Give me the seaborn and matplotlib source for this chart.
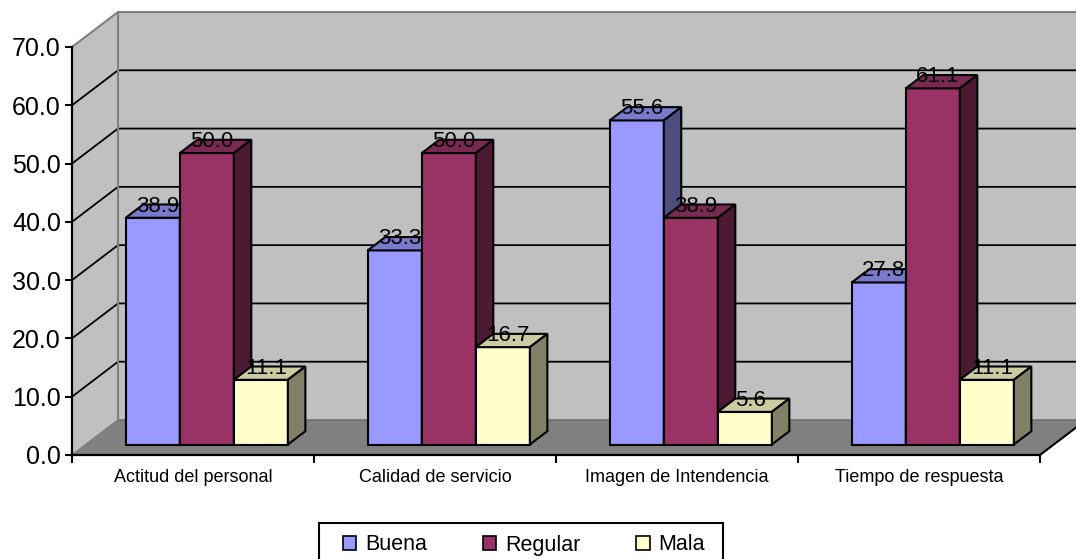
import numpy as np
import pandas as pd
import matplotlib
matplotlib.use("Agg")
import matplotlib.pyplot as plt
import seaborn as sns
from matplotlib.patches import Polygon, Rectangle
from matplotlib.colors import to_rgb

# datos del grafico
categorias = ["Actitud del personal", "Calidad de servicio",
              "Imagen de Intendencia", "Tiempo de respuesta"]
niveles = ["Buena", "Regular", "Mala"]
buena = [38.9, 33.3, 55.6, 27.8]
regular = [50.0, 50.0, 38.9, 61.1]
mala = [11.1, 16.7, 5.6, 11.1]
colores = ["#9999FF", "#993366", "#FFFFCC"]
yticks = [0, 10, 20, 30, 40, 50, 60, 70]

df = pd.DataFrame({
    "categoria": categorias * 3,
    "nivel": np.repeat(niveles, len(categorias)),
    "valor": buena + regular + mala,
})

sns.set_style("white")
plt.rcParams["font.family"] = ["Liberation Sans", "DejaVu Sans"]
plt.rcParams["text.color"] = "black"
plt.rcParams["xtick.color"] = "black"
plt.rcParams["ytick.color"] = "black"

W, H = 1076, 559
fig = plt.figure(figsize=(W / 100, H / 100), dpi=100)
ax = fig.add_axes([72 / W, (H - 455) / H, 968 / W, 408 / H])

sns.barplot(data=df, x="categoria", y="valor", hue="nivel", hue_order=niveles,
            palette=colores, saturation=1, width=0.67, edgecolor="black",
            linewidth=1.5, ax=ax)
ax.set_xlim(-0.5, 3.5)
ax.set_ylim(0, 70)

# profundidad "3D" (pixeles -> unidades de datos)
px = 968 / 4
py = 408 / 70
DX, DY = 46 / px, 35 / py
f0, f1 = 0.3, 0.38
bx, by = f1 * DX, f1 * DY

def shade(c, k):
    r, g, b = to_rgb(c)
    return (r * k, g * k, b * k)

# paredes y piso
x0w, x1w = -0.5, 3.5
ax.add_patch(Polygon([(x0w + DX, DY), (x1w + DX, DY), (x1w + DX, 70 + DY), (x0w + DX, 70 + DY)],
                     fc="#C0C0C0", ec="none", zorder=0.5, clip_on=False))
ax.add_patch(Polygon([(x0w, 0), (x0w + DX, DY), (x0w + DX, 70 + DY), (x0w, 70)],
                     fc="#C0C0C0", ec="none", zorder=0.5, clip_on=False))
ax.add_patch(Polygon([(x0w, 0), (x1w, 0), (x1w + DX, DY), (x0w + DX, DY)],
                     fc="#808080", ec="none", zorder=0.6, clip_on=False))
for v in yticks[1:-1]:
    ax.plot([x0w, x0w + DX, x1w + DX], [v, v + DY, v + DY], color="black", lw=1.3,
            zorder=0.7, clip_on=False)
ax.plot([x0w, x0w + DX, x1w + DX], [70, 70 + DY, 70 + DY], color="#808080", lw=1.5,
        zorder=0.7, clip_on=False)
ax.plot([x0w + DX, x0w + DX], [DY, 70 + DY], color="#808080", lw=1.5, zorder=0.7, clip_on=False)
ax.plot([x0w + DX, x1w + DX], [DY, DY], color="#707070", lw=1.2, zorder=0.7, clip_on=False)
ax.plot([x0w, x0w + DX], [0, DY], color="#808080", lw=1.2, zorder=0.7, clip_on=False)
ax.plot([x1w, x1w + DX], [0, DY], color="black", lw=1.5, zorder=0.7, clip_on=False)

# barras con caras superior y lateral
for k, cont in enumerate(ax.containers):
    for rect in cont:
        w = rect.get_width()
        h = rect.get_height()
        xa = rect.get_x() + f0 * DX
        ya = rect.get_y() + f0 * DY
        rect.set_x(xa)
        rect.set_y(ya)
        rect.set_zorder(3 + k)
        rect.set_clip_on(False)
        top = [(xa, ya + h), (xa + w, ya + h), (xa + w + bx, ya + h + by), (xa + bx, ya + h + by)]
        side = [(xa + w, ya), (xa + w + bx, ya + by), (xa + w + bx, ya + h + by), (xa + w, ya + h)]
        ax.add_patch(Polygon(top, fc=shade(colores[k], 0.8), ec="black", lw=1.5,
                             zorder=3 + k, clip_on=False))
        ax.add_patch(Polygon(side, fc=shade(colores[k], 0.5), ec="black", lw=1.5,
                             zorder=3 + k, clip_on=False))
        ax.text(xa + w / 2 + bx * 0.3, ya + h + by - 0.3, f"{h:.1f}", ha="center",
                va="center", fontsize=16, color="black", zorder=10)

# ejes
for s in ["top", "right"]:
    ax.spines[s].set_visible(False)
for s in ["left", "bottom"]:
    ax.spines[s].set_color("black")
    ax.spines[s].set_linewidth(1.6)
    ax.spines[s].set_zorder(2)
ax.set_yticks(yticks)
ax.set_yticklabels([f"{v:.1f}" for v in yticks])
ax.tick_params(axis="y", left=True, length=5, width=1.5, labelsize=18, pad=3,
               colors="black")
ax.set_xticks(range(len(categorias)))
ax.set_xticklabels(categorias)
ax.set_xticks([-0.5, 0.5, 1.5, 2.5, 3.5], minor=True)
ax.tick_params(axis="x", which="major", length=0, labelsize=13, pad=10, colors="black")
ax.tick_params(axis="x", which="minor", bottom=True, length=6, width=1.5, colors="black")
ax.set_xlabel("")
ax.set_ylabel("")

# leyenda
handles, labels = ax.get_legend_handles_labels()
ax.get_legend().remove()
leg = fig.legend(handles, labels, ncol=3, loc="center", bbox_to_anchor=(524 / W, 1 - 545 / H),
                 frameon=False, fontsize=15.5, handlelength=0.63, handleheight=0.63,
                 handletextpad=0.4, columnspacing=2.6, labelcolor="black")
for hd in leg.legend_handles:
    hd.set_edgecolor("black")
    hd.set_linewidth(1.2)
fig.add_artist(Rectangle((319 / W, (H - 570) / H), 404 / W, 47 / H, transform=fig.transFigure,
                         fill=False, ec="black", lw=1.5))

fig.savefig("out.png", dpi=100)
